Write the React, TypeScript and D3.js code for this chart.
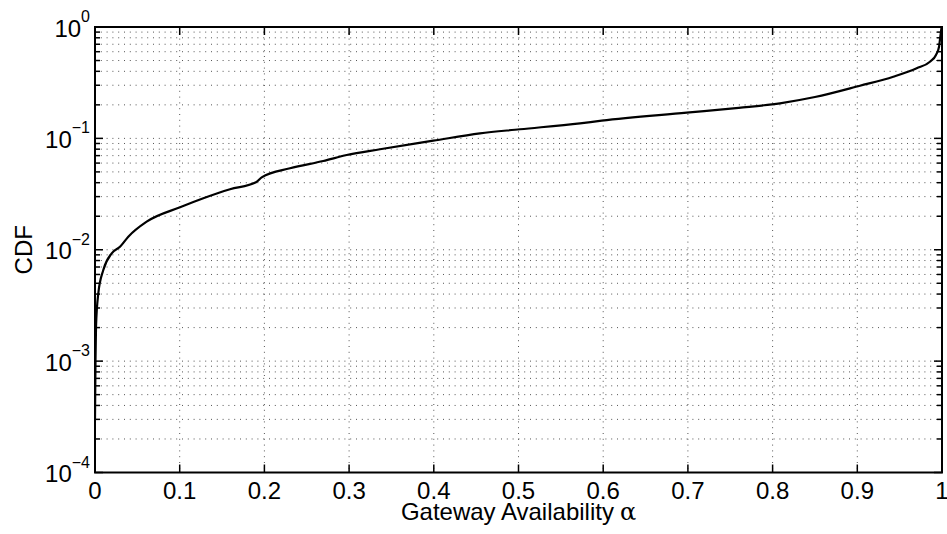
import React from "react";
import * as d3 from "d3";

const alpha = [0, 0.0006, 0.0012, 0.0039, 0.0098, 0.0197, 0.0295, 0.0393, 0.061, 0.1004, 0.1279, 0.1594, 0.1901, 0.1968, 0.2302, 0.2695, 0.2972, 0.3365, 0.3994, 0.4545, 0.5018, 0.5726, 0.5982, 0.6986, 0.7600, 0.8087, 0.8500, 0.9032, 0.9425, 0.9701, 0.9858, 0.9929, 0.9965, 0.998, 0.9995];
const cdf = [0.0003, 0.00102, 0.00204, 0.00406, 0.00658, 0.00929, 0.01064, 0.01309, 0.01786, 0.02405, 0.02897, 0.0349, 0.0403, 0.0447, 0.0539, 0.0626, 0.0709, 0.0799, 0.0953, 0.111, 0.1207, 0.1366, 0.1441, 0.17, 0.188, 0.2065, 0.235, 0.2972, 0.3579, 0.4257, 0.488, 0.5605, 0.6655, 0.818, 1.0];

const xTicks = [0, 0.1, 0.2, 0.3, 0.4, 0.5, 0.6, 0.7, 0.8, 0.9, 1];
const xTickLabels = ["0", "0.1", "0.2", "0.3", "0.4", "0.5", "0.6", "0.7", "0.8", "0.9", "1"];
const yExponents = [0, -1, -2, -3, -4];
const xLabel = "Gateway Availability";
const yLabel = "CDF";

const W = 947, H = 534;
const L = 95, R = 942, T = 27, B = 472.5;
const FONT = "Liberation Sans, Arial, Helvetica, sans-serif";

export default function App() {
  const x = d3.scaleLinear().domain([0, 1]).range([L, R]);
  const y = d3.scaleLog().domain([1e-4, 1]).range([B, T]);

  const minorVals: number[] = [];
  for (let e = -4; e < 0; e++) {
    for (let m = 2; m <= 9; m++) minorVals.push(m * Math.pow(10, e));
  }
  const majorVals = yExponents.map((e) => Math.pow(10, e));

  const pts = alpha.map((a, i) => [a, cdf[i]] as [number, number]);
  const line = d3
    .line<[number, number]>()
    .x((d) => x(d[0]))
    .y((d) => y(d[1]))
    .curve(d3.curveMonotoneX);

  const gridStyle = { stroke: "#555", strokeWidth: 1, strokeDasharray: "1,4.8" };

  return (
    <svg width={W} height={H} style={{ position: "fixed", left: 0, top: 0, background: "#fff" }} fontFamily={FONT}>
      <rect x={0} y={0} width={W} height={H} fill="#fff" />
      <defs>
        <clipPath id="plotclip">
          <rect x={L} y={T - 1} width={R - L} height={B - T + 2} />
        </clipPath>
      </defs>
      {/* grid */}
      {[...minorVals, ...majorVals].map((v, i) => (
        <line key={"hg" + i} x1={L} x2={R} y1={y(v)} y2={y(v)} {...gridStyle} />
      ))}
      {xTicks.map((v, i) => (
        <line key={"vg" + i} x1={x(v)} x2={x(v)} y1={T} y2={B} {...gridStyle} />
      ))}
      {/* ticks */}
      {xTicks.map((v, i) => (
        <g key={"xt" + i}>
          <line x1={x(v)} x2={x(v)} y1={B} y2={B - 8} stroke="#000" strokeWidth={1.5} />
          <line x1={x(v)} x2={x(v)} y1={T} y2={T + 8} stroke="#000" strokeWidth={1.5} />
        </g>
      ))}
      {majorVals.map((v, i) => (
        <g key={"ymt" + i}>
          <line x1={L} x2={L + 8} y1={y(v)} y2={y(v)} stroke="#000" strokeWidth={1.5} />
          <line x1={R} x2={R - 8} y1={y(v)} y2={y(v)} stroke="#000" strokeWidth={1.5} />
        </g>
      ))}
      {minorVals.map((v, i) => (
        <g key={"ymn" + i}>
          <line x1={L} x2={L + 5} y1={y(v)} y2={y(v)} stroke="#000" strokeWidth={1.5} />
          <line x1={R} x2={R - 5} y1={y(v)} y2={y(v)} stroke="#000" strokeWidth={1.5} />
        </g>
      ))}
      {/* curve */}
      <path d={line(pts) || ""} fill="none" stroke="#000" strokeWidth={2.2} clipPath="url(#plotclip)" />
      {/* box */}
      <rect x={L} y={T} width={R - L} height={B - T} fill="none" stroke="#000" strokeWidth={2} />
      {/* x tick labels */}
      {xTicks.map((v, i) => (
        <text key={"xl" + i} x={x(v)} y={499} textAnchor="middle" fontSize={24} fill="#000">
          {xTickLabels[i]}
        </text>
      ))}
      {/* y tick labels */}
      {yExponents.map((e, i) => (
        <text key={"yl" + i} x={90} y={y(Math.pow(10, e)) + 9.5} textAnchor="end" fontSize={24} fill="#000">
          <tspan>10</tspan>
          <tspan dy={-14.5} fontSize={16}>{e < 0 ? "\u2212" + Math.abs(e) : String(e)}</tspan>
        </text>
      ))}
      {/* axis labels */}
      <text x={(L + R) / 2} y={520} textAnchor="middle" fontSize={24} fill="#000">
        {xLabel}
        <tspan fontFamily="DejaVu Serif, serif" fontStyle="normal" dx={6}>{"\u03B1"}</tspan>
      </text>
      <text
        transform={`translate(32,${(T + B) / 2}) rotate(-90)`}
        textAnchor="middle"
        fontSize={24}
        fill="#000"
      >
        {yLabel}
      </text>
    </svg>
  );
}
